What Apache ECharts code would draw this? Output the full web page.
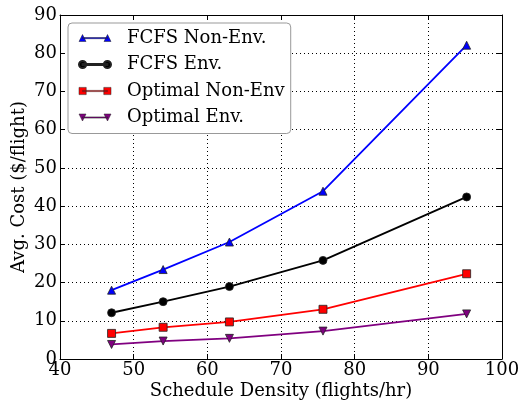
<!DOCTYPE html>
<html><head><meta charset="utf-8">
<script src="https://cdn.jsdelivr.net/npm/echarts@6/dist/echarts.min.js"></script>
<style>html,body{margin:0;padding:0;background:#fff}#c{width:527px;height:402px}</style>
</head><body><div id="c"></div>
<script>
const density = [47, 54, 63, 75.7, 95.2];
const fcfsNonEnv = [18, 23.4, 30.6, 43.9, 82.1];
const fcfsEnv = [12.1, 15.0, 18.95, 25.8, 42.4];
const optNonEnv = [6.7, 8.3, 9.7, 13.0, 22.3];
const optEnv = [3.8, 4.7, 5.4, 7.3, 11.8];
const seriesNames = ['FCFS Non-Env.', 'FCFS Env.', 'Optimal Non-Env', 'Optimal Env.'];
const xTicks = {min: 40, max: 100, step: 10};
const yTicks = {min: 0, max: 90, step: 10};

const F = 'DejaVu Serif';
const FS = 18;
const pair = (ys) => density.map((x, i) => [x, ys[i]]);

// legend icons: line with a marker on each end (32x10 box)
const iconTri = 'path://M0,9.5 L3.5,2.5 L7,9.5 Z M3.5,5.5 L28.5,5.5 L28.5,6.7 L3.5,6.7 Z M25,9.5 L28.5,2.5 L32,9.5 Z';
const iconCirc = 'path://M0.5,6 A3.5,3.5 0 1,1 7.5,6 A3.5,3.5 0 1,1 0.5,6 Z M4,5.4 L28,5.4 L28,6.6 L4,6.6 Z M24.5,6 A3.5,3.5 0 1,1 31.5,6 A3.5,3.5 0 1,1 24.5,6 Z';
const iconSq = 'path://M0.5,2.5 L7.5,2.5 L7.5,9.5 L0.5,9.5 Z M4,5.4 L28,5.4 L28,6.6 L4,6.6 Z M24.5,2.5 L31.5,2.5 L31.5,9.5 L24.5,9.5 Z';
const iconInv = 'path://M0,2.5 L7,2.5 L3.5,9.5 Z M3.5,5.4 L28.5,5.4 L28.5,6.6 L3.5,6.6 Z M25,2.5 L32,2.5 L28.5,9.5 Z';

const mk = (name, data, color, symbol, size, rot) => ({
  name, type: 'line', data: pair(data), xAxisIndex: 0, yAxisIndex: 0,
  symbol, symbolSize: size, symbolRotate: rot, showAllSymbol: true,
  lineStyle: {color, width: 1.8},
  itemStyle: {color, borderColor: '#222', borderWidth: 0.8},
  emphasis: {disabled: true}, animation: false, z: 3
});

const axisCommon = {
  axisLine: {show: true, onZero: false, lineStyle: {color: '#000', width: 1}},
  axisTick: {show: true, inside: true, length: 5, lineStyle: {color: '#000'}},
  splitLine: {show: false}
};

const option = {
  animation: false,
  grid: {left: 60, right: 25, top: 15, bottom: 43, containLabel: false, outerBoundsMode: 'none'},
  legend: {
    left: 68, top: 23, orient: 'vertical',
    itemWidth: 32, itemHeight: 10, itemGap: 8.5,
    padding: [6, 6, 7, 10],
    backgroundColor: '#fff', borderColor: '#999', borderWidth: 1, borderRadius: 4,
    textStyle: {fontFamily: F, fontSize: FS, color: '#000', padding: [0, 0, 0, 11]},
    data: [
      {name: seriesNames[0], icon: iconTri, itemStyle: {color: '#0000ff', borderColor: '#222', borderWidth: 0.5}},
      {name: seriesNames[1], icon: iconCirc, itemStyle: {color: '#000'}},
      {name: seriesNames[2], icon: iconSq, itemStyle: {color: '#ff0000', borderColor: '#222', borderWidth: 0.5}},
      {name: seriesNames[3], icon: iconInv, itemStyle: {color: '#800080', borderColor: '#222', borderWidth: 0.5}}
    ]
  },
  xAxis: [
    Object.assign({}, axisCommon, {
      type: 'value', position: 'bottom', min: xTicks.min, max: xTicks.max, interval: xTicks.step,
      name: 'Schedule Density (flights/hr)', nameLocation: 'middle', nameGap: 23, nameMoveOverlap: false,
      nameTextStyle: {fontFamily: F, fontSize: FS, color: '#000'},
      axisLabel: {fontFamily: F, fontSize: FS, color: '#000', margin: 2},
      splitLine: {show: true, lineStyle: {color: '#000', type: [1, 3], width: 1}}
    }),
    Object.assign({}, axisCommon, {
      type: 'value', position: 'top', min: xTicks.min, max: xTicks.max, interval: xTicks.step,
      axisLabel: {show: false}
    })
  ],
  yAxis: [
    Object.assign({}, axisCommon, {
      type: 'value', position: 'left', min: yTicks.min, max: yTicks.max, interval: yTicks.step,
      name: 'Avg. Cost ($/flight)', nameLocation: 'middle', nameGap: 32, nameMoveOverlap: false,
      nameTextStyle: {fontFamily: F, fontSize: FS, color: '#000'},
      axisLabel: {fontFamily: F, fontSize: FS, color: '#000', margin: 3},
      splitLine: {show: true, lineStyle: {color: '#000', type: [1, 3], width: 1}}
    }),
    Object.assign({}, axisCommon, {
      type: 'value', position: 'right', min: yTicks.min, max: yTicks.max, interval: yTicks.step,
      axisLabel: {show: false}
    })
  ],
  series: [
    mk(seriesNames[0], fcfsNonEnv, '#0000ff', 'triangle', 8, 0),
    mk(seriesNames[1], fcfsEnv, '#000000', 'circle', 8, 0),
    mk(seriesNames[2], optNonEnv, '#ff0000', 'rect', 8, 0),
    mk(seriesNames[3], optEnv, '#800080', 'triangle', 8, 180)
  ]
};
const chart = echarts.init(document.getElementById('c'), null, {renderer: 'canvas'});
chart.setOption(option);
</script></body></html>
